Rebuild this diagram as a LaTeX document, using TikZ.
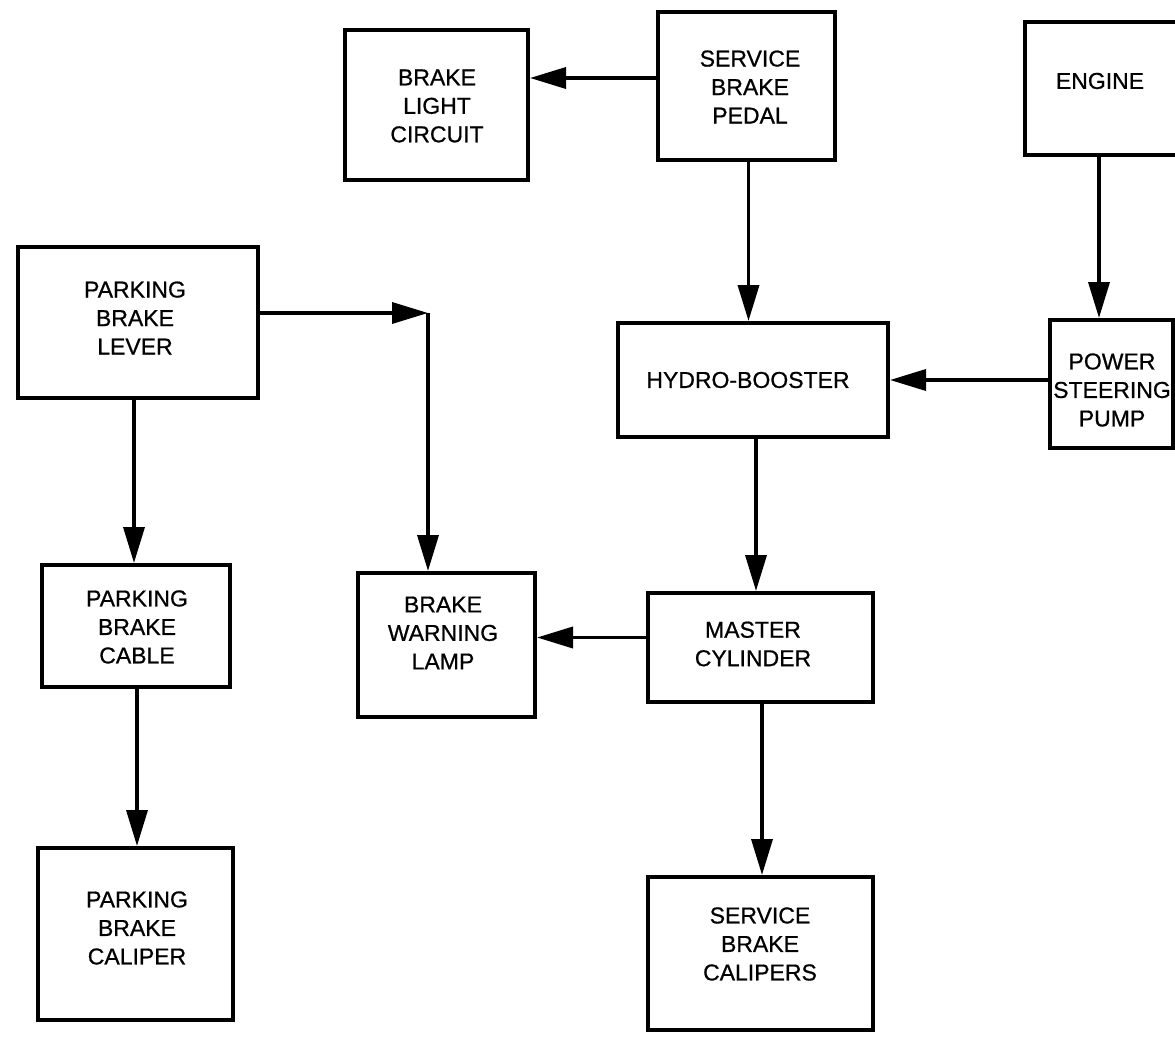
\documentclass[tikz,border=0pt]{standalone}
\usepackage{fontspec}
\setmainfont{Liberation Sans}
\newfontfamily\scanfont{Liberation Sans}[FakeBold=0.7]
\usetikzlibrary{arrows.meta}
\begin{document}
\begin{tikzpicture}[x=1pt,y=-1pt,
  box/.style={draw=black, line width=4pt, rectangle, inner sep=0pt},
  txt/.style={align=center, inner sep=0pt, font=\scanfont\fontsize{23}{28.5}\selectfont},
  arr/.style={line width=3.6pt, -{Triangle[length=36pt,width=21pt]}}]
\useasboundingbox (0,0) rectangle (1175,1038);
% boxes
\node[box, minimum width=183pt, minimum height=150pt] (light) at (436.5,105) {};
\node[box, minimum width=177pt, minimum height=148pt] (pedal) at (746.5,86) {};
\node[box, minimum width=154pt, minimum height=133pt] (engine) at (1102,88.5) {};
\node[box, minimum width=240pt, minimum height=151pt] (lever) at (138,322.5) {};
\node[box, minimum width=270pt, minimum height=114pt] (hydro) at (753,380) {};
\node[box, minimum width=123pt, minimum height=128pt] (pump) at (1111.5,384) {};
\node[box, minimum width=188pt, minimum height=122pt] (cable) at (136,626) {};
\node[box, minimum width=177pt, minimum height=144pt] (lamp) at (446.5,645) {};
\node[box, minimum width=225pt, minimum height=109pt] (master) at (760.5,647.5) {};
\node[box, minimum width=225pt, minimum height=153pt] (calipers) at (760.5,953.5) {};
\node[box, minimum width=195pt, minimum height=172pt] (pcaliper) at (135.5,934) {};
% texts
\node[txt] (tlight) at (437,106) {BRAKE\\LIGHT\\CIRCUIT};
\node[txt] (tpedal) at (750,87) {SERVICE\\BRAKE\\PEDAL};
\node[txt] (tengine) at (1100,81) {ENGINE};
\node[txt] (tlever) at (135,318) {PARKING\\BRAKE\\LEVER};
\node[txt] (thydro) at (748,380) {HYDRO-BOOSTER};
\node[txt] (tpump) at (1112,390) {POWER\\STEERING\\PUMP};
\node[txt] (tcable) at (137,627) {PARKING\\BRAKE\\CABLE};
\node[txt] (tlamp) at (443,633) {BRAKE\\WARNING\\LAMP};
\node[txt] (tmaster) at (753,644) {MASTER\\CYLINDER};
\node[txt] (tcalipers) at (760,944) {SERVICE\\BRAKE\\CALIPERS};
\node[txt] (tpcaliper) at (137,928) {PARKING\\BRAKE\\CALIPER};
% helper coordinates
\coordinate (pl) at ([yshift=8pt]pedal.west);
\coordinate (pv) at ([xshift=2pt]pedal.south);
\coordinate (ev) at ([xshift=-3pt]engine.south);
\coordinate (corner) at (428,313);
\coordinate (lv) at ([xshift=-4pt]lever.south);
\coordinate (hv) at ([xshift=3pt]hydro.south);
\coordinate (ml) at ([yshift=10pt]master.west);
\coordinate (mv) at ([xshift=1.5pt]master.south);
\coordinate (cv) at ([xshift=1pt]cable.south);
% connectors
\draw[arr] (pl) -- (pl -| light.east);
\draw[arr] (pv) -- (pv |- hydro.north);
\draw[arr] (ev) -- (ev |- pump.north);
\draw[arr] (pump.west |- hydro.east) -- (hydro.east);
\draw[arr] (lever.east |- corner) -- (corner);
\draw[arr] (corner) -- (corner |- lamp.north);
\draw[arr] (lv) -- (lv |- cable.north);
\draw[arr] (hv) -- (hv |- master.north);
\draw[arr] (ml) -- (ml -| lamp.east);
\draw[arr] (mv) -- (mv |- calipers.north);
\draw[arr] (cv) -- (cv |- pcaliper.north);
\end{tikzpicture}
\end{document}
